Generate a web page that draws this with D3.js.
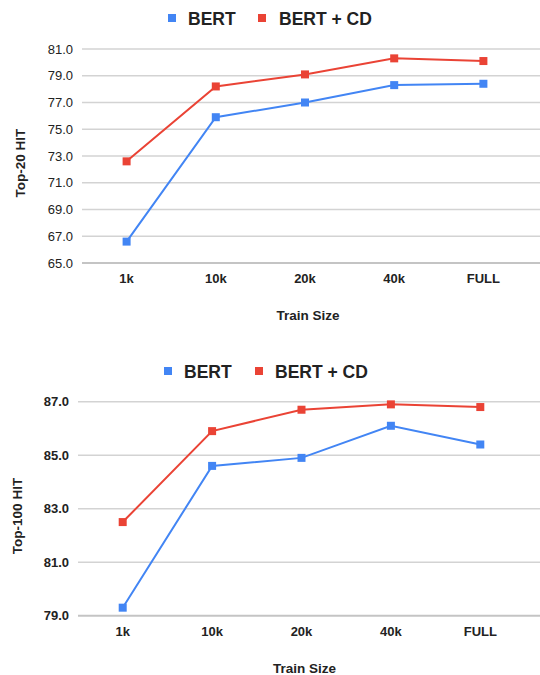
<!DOCTYPE html>
<html><head><meta charset="utf-8">
<script src="https://cdn.jsdelivr.net/npm/d3@7"></script>
<style>html,body{margin:0;padding:0;background:#fff;}svg{display:block;font-family:"Liberation Sans",Arial,sans-serif;}</style>
</head><body>
<svg id="c" width="540" height="675"></svg>
<script>
const categories = ["1k","10k","20k","40k","FULL"];
const seriesNames = ["BERT","BERT + CD"];
const colors = ["#4285f4","#ea4335"];
const top20Bert = [66.6, 75.9, 77.0, 78.3, 78.4];
const top20BertCD = [72.6, 78.2, 79.1, 80.3, 80.1];
const top100Bert = [79.3, 84.6, 84.9, 86.1, 85.4];
const top100BertCD = [82.5, 85.9, 86.7, 86.9, 86.8];
const top20Ticks = [65, 67, 69, 71, 73, 75, 77, 79, 81];
const top100Ticks = [79, 81, 83, 85, 87];

const svg = d3.select("#c");

function drawChart(cfg){
  const g = svg.append("g");
  const x = d3.scaleBand().domain(categories).range([cfg.left, cfg.right]);
  const y = d3.scaleLinear().domain(cfg.domain).range([cfg.bottom, cfg.top]);
  // gridlines
  g.selectAll("line.grid").data(cfg.ticks).enter().append("line")
    .attr("x1", cfg.left).attr("x2", 540)
    .attr("y1", d=>y(d)).attr("y2", d=>y(d))
    .attr("stroke", (d,i)=> i===0 ? "#c4c4c4" : "#d3d3d3").attr("stroke-width", (d,i)=> i===0?2:1.5);
  // y tick labels
  g.selectAll("text.yt").data(cfg.ticks).enter().append("text")
    .attr("x", cfg.left - 9).attr("y", d=>y(d)+4.5)
    .attr("text-anchor","end").attr("font-size", 13)
    .attr("font-weight", cfg.yBold ? "bold" : "normal")
    .attr("fill", "#222").text(d=>d3.format(".1f")(d));
  // x tick labels
  g.selectAll("text.xt").data(categories).enter().append("text")
    .attr("x", d=>x(d)+x.bandwidth()/2).attr("y", cfg.xLabelY)
    .attr("text-anchor","middle").attr("font-size", 13).attr("font-weight","bold")
    .attr("fill","#222").text(d=>d);
  // axis titles
  g.append("text").attr("x", (cfg.left+cfg.right)/2 + 3).attr("y", cfg.xTitleY)
    .attr("text-anchor","middle").attr("font-size",13.5).attr("font-weight","bold").attr("fill","#222").text("Train Size");
  g.append("text").attr("transform", `translate(${cfg.yTitleX},${cfg.yTitleY}) rotate(-90)`)
    .attr("text-anchor","middle").attr("font-size",13.5).attr("font-weight","bold").attr("fill","#222").text(cfg.yTitle);
  // series
  const line = d3.line().x((d,i)=>x(categories[i])+x.bandwidth()/2).y(d=>y(d));
  cfg.series.forEach((s,si)=>{
    g.append("path").datum(s).attr("d", line).attr("fill","none")
      .attr("stroke", colors[si]).attr("stroke-width", 2);
    g.selectAll(null).data(s).enter().append("rect")
      .attr("x",(d,i)=>x(categories[i])+x.bandwidth()/2-4).attr("y", d=>y(d)-4)
      .attr("width",8).attr("height",8).attr("fill", colors[si]);
  });
  // legend
  const leg = g.append("g");
  cfg.legendItems.forEach((it,i)=>{
    leg.append("rect").attr("x", it.sx-4).attr("y", cfg.legendY-11).attr("width",8).attr("height",8).attr("fill", colors[i]);
    leg.append("text").attr("x", it.tx).attr("y", cfg.legendY).attr("font-size", 17.5).attr("font-weight","bold")
      .attr("fill","#222").text(seriesNames[i]);
  });
}

drawChart({
  left: 82, right: 528, top: 49, bottom: 263, domain: [65, 81], ticks: top20Ticks,
  series: [top20Bert, top20BertCD], yBold: false, xLabelY: 283, xTitleY: 320,
  yTitle: "Top-20 HIT", yTitleX: 24.5, yTitleY: 163, legendY: 25,
  legendItems: [{sx:172, tx:188},{sx:262, tx:279}]
});
drawChart({
  left: 78, right: 525, top: 401.7, bottom: 615.7, domain: [79, 87], ticks: top100Ticks,
  series: [top100Bert, top100BertCD], yBold: true, xLabelY: 636, xTitleY: 673,
  yTitle: "Top-100 HIT", yTitleX: 21.5, yTitleY: 516, legendY: 378,
  legendItems: [{sx:168, tx:184},{sx:259, tx:275}]
});
</script>
</body></html>
